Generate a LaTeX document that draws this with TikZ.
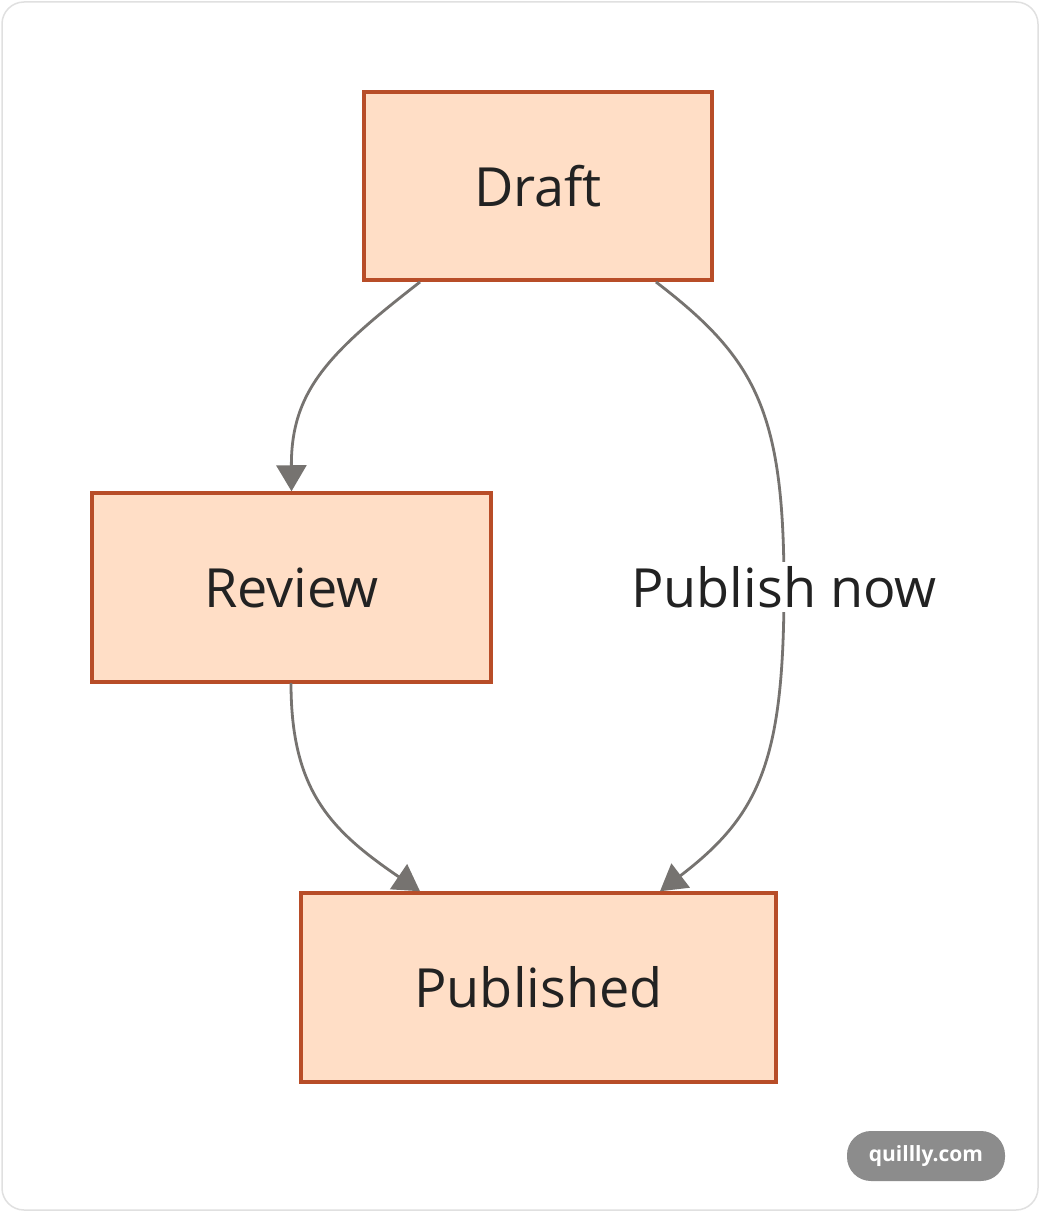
\documentclass[tikz,border=0pt]{standalone}
\usepackage{fontspec}
\setmainfont{Open Sans}
\usetikzlibrary{arrows.meta}
\definecolor{boxfill}{HTML}{FFDEC6}
\definecolor{boxline}{HTML}{B84D28}
\definecolor{edge}{HTML}{767370}
\definecolor{txt}{HTML}{222222}
\begin{document}
\begin{tikzpicture}[x=1pt,y=-1pt,
  box/.style={draw=boxline,fill=boxfill,line width=3.5pt,inner sep=0pt,font=\fontsize{54}{60}\selectfont,text=txt},
  conn/.style={draw=edge,line width=2.8pt,-{Triangle[width=30pt,length=26pt]}},
  lab/.style={fill=white,inner sep=4pt,font=\fontsize{54}{60}\selectfont,text=txt}]
\useasboundingbox (0,0) rectangle (1040,1212);
\draw[draw=black!12,line width=1.5pt,fill=white,rounded corners=22pt] (2,2) rectangle (1038,1210);
\node[box,minimum width=348pt,minimum height=188pt] (draft) at (538,186) {Draft};
\node[box,minimum width=399pt,minimum height=189pt] (review) at (291.5,587.5) {Review};
\node[box,minimum width=475pt,minimum height=189pt] (pub) at (538.5,987.5) {Published};
\coordinate (d1) at (420,282);
\coordinate (d2) at (656,282);
\coordinate (r1) at (291,683);
\coordinate (m) at (784,587);
\draw[conn] (d1) .. controls (330,352) and (291,390) .. (review.north);
\draw[draw=edge,line width=2.8pt] (d2) .. controls (755,358) and (784,410) .. (m);
\draw[conn] (m) .. controls (784,760) and (760,815) .. (pub.north -| 660,0);
\draw[conn] (r1) .. controls (291,790) and (330,830) .. (pub.north -| 420,0);
\node[lab] (l) at (m) {Publish now};
\node[fill=black!45,rounded corners=24pt,minimum width=158pt,minimum height=50pt,text=white,font=\bfseries\fontsize{21}{24}\selectfont] (wm) at (926,1156) {quillly.com};
\end{tikzpicture}
\end{document}
